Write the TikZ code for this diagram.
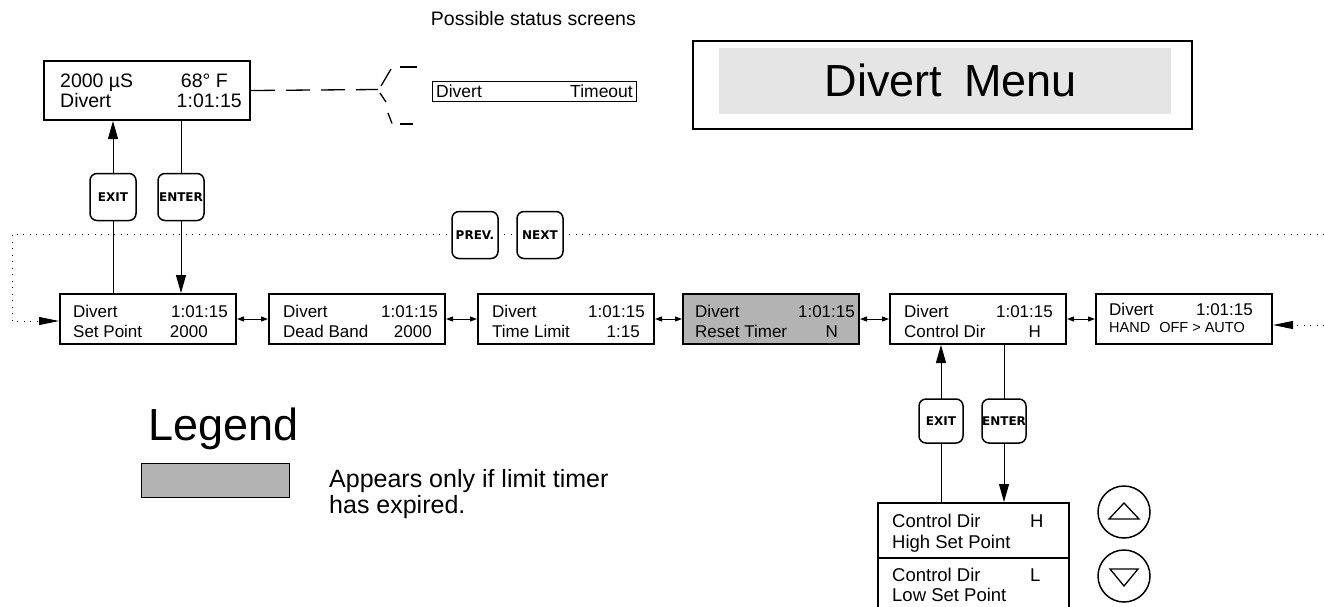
\documentclass[tikz,border=0pt]{standalone}
\usepackage{fontspec}
\setmainfont{Liberation Sans}
\newfontfamily\btnfont{DejaVu Sans}
\usetikzlibrary{arrows.meta}
\pgfdeclarelayer{bg}
\pgfsetlayers{bg,main}
\definecolor{resetgray}{HTML}{B3B3B3}
\definecolor{menugray}{HTML}{E5E5E5}
\begin{document}
\begin{tikzpicture}[x=1pt,y=-1pt,
  scr/.style={draw, line width=2pt, inner sep=0pt, anchor=north west, fill=white},
  rowbox/.style={scr, minimum width=176pt, minimum height=50pt},
  subbox/.style={scr, minimum width=191pt, minimum height=55pt},
  t17/.style={inner sep=0pt, font=\fontsize{17}{20}\selectfont},
  t18/.style={inner sep=0pt, font=\fontsize{18.5}{21}\selectfont},
  t19/.style={inner sep=0pt, font=\fontsize{19.5}{22}\selectfont},
  lw/.style={t17, anchor=base west},
  le/.style={t17, anchor=base east},
  btn/.style={draw, line width=1.5pt, rounded corners=7pt, fill=white,
    minimum width=46pt, minimum height=47pt, inner sep=0pt,
    font=\btnfont\bfseries\fontsize{12}{14}\selectfont},
  big/.style={line width=1pt, -{Triangle[length=18pt,width=10pt]}},
  dbl/.style={line width=1pt, {Triangle[length=7pt,width=5pt]}-{Triangle[length=7pt,width=5pt]}},
  dotline/.style={line width=1pt, dash pattern=on 1pt off 5.5pt},
  dashline/.style={line width=1.3pt, dash pattern=on 24pt off 11pt},
  updn/.style={draw, circle, line width=1.5pt, minimum size=52pt, inner sep=0pt}
]
\useasboundingbox (0,0) rectangle (1324,606);
\clip (0,0) rectangle (1324,606);

% status screen
\node[scr, minimum width=206pt, minimum height=59pt] (status) at (43,60) {};
\node[t19, anchor=base west] (s1) at (60,87) {2000 µS};
\node[t19, anchor=base east] (s2) at (228,87) {68° F};
\node[t19, anchor=base west] (s3) at (60,107) {Divert};
\node[t19, anchor=base east] (s4) at (242,107) {1:01:15};

% possible status screens
\node[t19, anchor=base east] (title) at (636,25) {Possible status screens};
\node[draw, line width=1.3pt, inner sep=0pt, minimum width=204pt, minimum height=20pt, anchor=north west] (tout) at (432,81) {};
\node[inner sep=0pt, font=\fontsize{17.5}{20}\selectfont, anchor=base west] (tout1) at (436,97) {Divert};
\node[inner sep=0pt, font=\fontsize{17.5}{20}\selectfont, anchor=base east] (tout2) at (633,97) {Timeout};
\coordinate (brk) at (378,89.5);
\draw[dashline] (status.east) -- (brk);
\draw[line width=1.3pt] (381,86) -- (391,69);
\draw[line width=1.3pt] (400,67) -- (417,67);
\draw[line width=1.3pt] (380,93) -- (386,102);
\draw[line width=1.3pt] (388,113) -- (392,123.5);
\draw[line width=1.3pt] (400,124) -- (413,124);

% menu title
\node[draw, line width=1.5pt, minimum width=499pt, minimum height=88pt, anchor=north west, inner sep=0pt] (menu) at (692,40) {};
\node[fill=menugray, minimum width=452pt, minimum height=66pt, anchor=north west, inner sep=0pt] (menubg) at (719,48) {};
\node[font=\fontsize{45}{50}\selectfont, anchor=base, inner sep=0pt] (menut) at (951,96) {Divert\hspace{22pt}Menu};

% main row
\node[rowbox] (b1) at (59,293) {};
\node[lw] (b1a) at (73,317) {Divert};
\node[le] (b1b) at (228,317) {1:01:15};
\node[lw] (b1c) at (73,337) {Set Point};
\node[le] (b1d) at (208,337) {2000};

\node[rowbox] (b2) at (268,293) {};
\node[lw] (b2a) at (283,317) {Divert};
\node[le] (b2b) at (438,317) {1:01:15};
\node[lw] (b2c) at (283,337) {Dead Band};
\node[le] (b2d) at (432,337) {2000};

\node[rowbox] (b3) at (477,293) {};
\node[lw] (b3a) at (492,317) {Divert};
\node[le] (b3b) at (645,317) {1:01:15};
\node[lw] (b3c) at (492,337) {Time Limit};
\node[le] (b3d) at (640,337) {1:15};

\node[rowbox, fill=resetgray] (b4) at (682,293) {};
\node[lw] (b4a) at (695,317) {Divert};
\node[le] (b4b) at (855,317) {1:01:15};
\node[lw] (b4c) at (695,337) {Reset Timer};
\node[le] (b4d) at (838,337) {N};

\node[rowbox] (b5) at (889,293) {};
\node[lw] (b5a) at (904,317) {Divert};
\node[le] (b5b) at (1053,317) {1:01:15};
\node[lw] (b5c) at (904,337) {Control Dir};
\node[le] (b5d) at (1041,337) {H};

\node[rowbox] (b6) at (1095,293) {};
\node[lw] (b6a) at (1109,315) {Divert};
\node[le] (b6b) at (1253,315) {1:01:15};
\node[inner sep=0pt, font=\fontsize{14.5}{16}\selectfont, anchor=base west] (b6c) at (1109,332) {HAND\hspace{9pt}OFF > AUTO};

% sub screens
\node[subbox] (sub1) at (877,502) {};
\node[t18, anchor=base west] (sub1a) at (892,527) {Control Dir};
\node[t18, anchor=base west] (sub1b) at (1030,527) {H};
\node[t18, anchor=base west] (sub1c) at (892,548) {High Set Point};
\node[subbox, minimum height=62pt] (sub2) at (877,557) {};
\node[t18, anchor=base west] (sub2a) at (892,581) {Control Dir};
\node[t18, anchor=base west] (sub2b) at (1030,581) {L};
\node[t18, anchor=base west] (sub2c) at (892,601) {Low Set Point};

% up/down keys
\node[updn] (up) at (1124,512) {};
\draw[line width=1.3pt] ([shift={(-15,7)}]up.center) -- ([shift={(0,-9)}]up.center) -- ([shift={(15,7)}]up.center) -- cycle;
\node[updn] (dn) at (1124,576) {};
\draw[line width=1.3pt] ([shift={(-14,-7)}]dn.center) -- ([shift={(14,-7)}]dn.center) -- ([shift={(0,10)}]dn.center) -- cycle;

% buttons
\node[btn] (exit1) at (113,197) {EXIT};
\node[btn] (enter1) at (181,197) {ENTER};
\node[btn] (prev) at (475,235) {PREV.};
\node[btn] (next) at (540,235) {NEXT};
\node[btn, minimum width=44pt, minimum height=44pt] (exit2) at (941,421) {EXIT};
\node[btn, minimum width=44pt, minimum height=44pt] (enter2) at (1004,421) {ENTER};

% legend
\node[anchor=base west, font=\fontsize{45}{50}\selectfont, inner sep=0pt] (leg) at (148,440) {Legend};
\node[draw, fill=resetgray, line width=0.8pt, minimum width=148pt, minimum height=34pt, anchor=north west, inner sep=0pt] (legbox) at (141,463) {};
\node[anchor=base west, font=\fontsize{25}{28}\selectfont, inner sep=0pt] (legt1) at (329,487) {Appears only if limit timer};
\node[anchor=base west, font=\fontsize{25}{28}\selectfont, inner sep=0pt] (legt2) at (329,513) {has expired.};

% connectors
\coordinate (dtr) at (1324,234);
\coordinate (dtl) at (12,234);
\coordinate (drr) at (1324,325);
\begin{pgfonlayer}{bg}
\draw[big] (exit1.center |- b1.north) -- (exit1.center |- status.south);
\draw[big] (enter1.center |- status.south) -- (enter1.center |- b1.north);
\draw[big] (exit2.center |- sub1.north) -- (exit2.center |- b5.south);
\draw[big] (enter2.center |- b5.south) -- (enter2.center |- sub1.north);
\draw[dotline, -{Triangle[length=20pt,width=8pt]}] (dtr) -- (dtl) -- (dtl |- 0,321) -- (b1.west |- 0,321);
\draw[dotline, -{Triangle[length=20pt,width=8pt]}] (drr) -- (b6.east |- drr);
\end{pgfonlayer}
\draw[dbl] (b1.east) -- (b2.west);
\draw[dbl] (b2.east) -- (b3.west);
\draw[dbl] (b3.east) -- (b4.west);
\draw[dbl] (b4.east) -- (b5.west);
\draw[dbl] (b5.east) -- (b6.west);
\end{tikzpicture}
\end{document}
